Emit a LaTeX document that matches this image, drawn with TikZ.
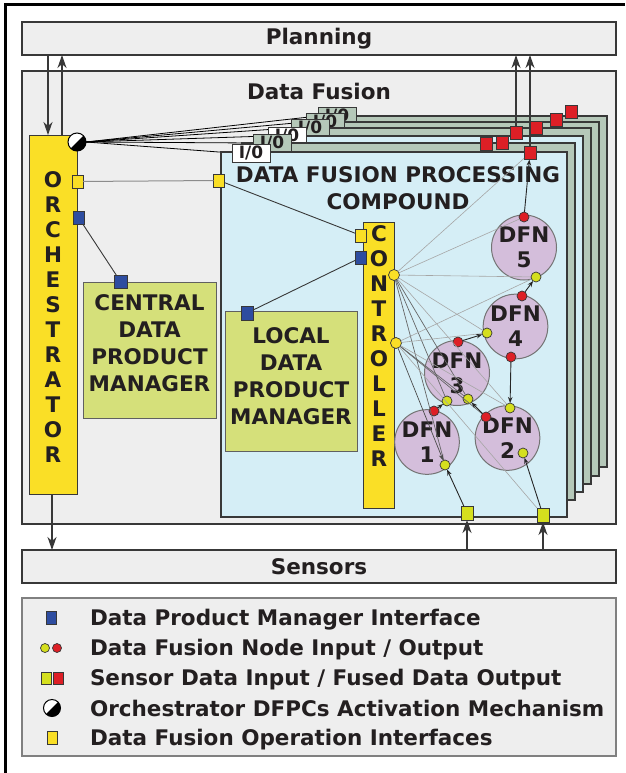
\documentclass[tikz,border=0pt]{standalone}
\usepackage{fontspec}
\setmainfont{DejaVu Sans}
\usetikzlibrary{arrows.meta}
\definecolor{boxgray}{HTML}{EEEEEE}
\definecolor{edge}{HTML}{383838}
\definecolor{lblue}{HTML}{D5EEF6}
\definecolor{lgreen}{HTML}{B5C8B9}
\definecolor{yel}{HTML}{FADF26}
\definecolor{olive}{HTML}{D5E07A}
\definecolor{bport}{HTML}{2E4DA0}
\definecolor{ygport}{HTML}{D5DF1E}
\definecolor{rport}{HTML}{DD1F26}
\definecolor{lilac}{HTML}{D4BEDB}
\definecolor{txt}{HTML}{231F20}
\pgfdeclarelayer{boxes}
\pgfdeclarelayer{wires}
\pgfsetlayers{boxes,wires,main}
\begin{document}
\begin{tikzpicture}[x=1pt,y=-1pt,
  every node/.style={inner sep=0pt,outer sep=0pt,text=txt,font=\bfseries\fontsize{21.5}{27}\selectfont},
  graybox/.style={rectangle,draw=edge,line width=1.3pt,fill=boxgray},
  lgbox/.style={rectangle,draw=gray,line width=1.2pt,fill=boxgray},
  yelbox/.style={rectangle,draw=edge,line width=1pt,fill=yel},
  dpmbox/.style={rectangle,draw=edge!80,line width=1pt,fill=olive},
  bluelayer/.style={rectangle,draw=edge,line width=1.2pt,fill=lblue},
  greenlayer/.style={rectangle,draw=edge,line width=1.2pt,fill=lgreen},
  whitetab/.style={rectangle,draw=edge,line width=1pt,fill=white,minimum width=38,minimum height=17,font=\bfseries\fontsize{17}{17}\selectfont},
  greentab/.style={whitetab,fill=lgreen},
  sq/.style={rectangle,draw=edge,line width=0.8pt,minimum width=11,minimum height=13},
  yelsq/.style={sq,fill=yel},
  bluesq/.style={sq,fill=bport},
  redsq/.style={sq,fill=rport,minimum width=12},
  ygsq/.style={sq,fill=ygport,minimum width=12,minimum height=14},
  dot/.style={circle,draw=edge,line width=0.7pt,minimum size=10},
  reddot/.style={dot,fill=rport},
  ygdot/.style={dot,fill=ygport},
  yeldot/.style={dot,fill=yel,minimum size=11},
  dfn/.style={circle,draw=edge!70,line width=1pt,fill=lilac,minimum size=62,align=center,font=\bfseries\fontsize{21.5}{25}\selectfont},
  actsym/.style={circle,draw=black,line width=1pt,fill=white,minimum size=18,
    path picture={\fill[black] (path picture bounding box.north east) -- (path picture bounding box.south west) -- (path picture bounding box.south east) -- cycle;}},
  bigarrow/.style={draw=edge,line width=1.3pt,-{Stealth[length=13pt,width=9pt,inset=4pt]}},
  sarrow/.style={draw=black!85,line width=0.9pt,-{Stealth[length=6pt,width=4.5pt]}},
  ctl/.style={draw=gray!70,line width=0.6pt},
  ctld/.style={draw=black!60,line width=0.7pt},
  link/.style={draw=edge,line width=0.9pt},
  glink/.style={draw=gray!90,line width=1pt},
  actline/.style={draw=black,line width=0.8pt},
]
\useasboundingbox (0,0) rectangle (625,773);
% outer frame
\draw[line width=3pt,black] (5,773) -- (5,5) -- (625,5);

\begin{pgfonlayer}{boxes}
\node[graybox,minimum width=594,minimum height=33] (plan) at (319,38.5) {Planning};
\node[graybox,minimum width=594,minimum height=453] (df) at (319,297.5) {};
\node (dft) at (319,91) {Data Fusion};
\node[graybox,minimum width=594,minimum height=33] (sens) at (319,566.5) {Sensors};
\node[lgbox,minimum width=594,minimum height=158] (leg) at (319,677) {};
\end{pgfonlayer}

% stacked DFPC layers (back to front)
\node[greenlayer,minimum width=300,minimum height=351] (l6) at (457,291.5) {};
\node[greentab] (t6) at (337,116) {I/0};
\node[redsq] (o6) at (571,112) {};
\node[greenlayer,minimum width=304,minimum height=354] (l5) at (447,299) {};
\node[greentab] (t5) at (325,122) {I/0};
\node[redsq] (o5) at (556,120) {};
\node[greenlayer,minimum width=311,minimum height=356] (l4) at (435.5,306) {};
\node[greentab] (t4) at (310,128) {I/0};
\node[redsq] (o4) at (536,127.5) {};
\node[bluelayer,minimum width=326,minimum height=356] (l3) at (420,314) {};
\node[whitetab] (t3) at (287,136) {I/0};
\node[redsq] (o3) at (516,133) {};
\node[greenlayer,minimum width=333,minimum height=357] (l2) at (408.5,321.5) {};
\node[greentab] (t2) at (272,143) {I/0};
\node[redsq] (o2a) at (486,143.5) {};
\node[redsq] (o2b) at (502,143) {};
\node[bluelayer,minimum width=346,minimum height=365] (l1) at (394,334.5) {};
\node[whitetab,minimum height=18] (t1) at (251,153) {I/0};
\node[redsq] (o1) at (530,153) {};
\node[align=center,font=\bfseries\fontsize{21.5}{26.5}\selectfont] (dfpct) at (398,188) {DATA FUSION PROCESSING\\COMPOUND};

% orchestrator
\node[yelbox,minimum width=48,minimum height=359] (orch) at (53,314.5) {};
\node[align=center,font=\bfseries\fontsize{21.5}{25}\selectfont] (orcht) at (53,317.5) {O\\R\\C\\H\\E\\S\\T\\R\\A\\T\\O\\R};
\node[actsym] (act) at (77,142) {};
\node[yelsq] (oy) at (77.5,181.5) {};
\node[bluesq] (ob) at (78.5,217.5) {};

% central data product manager
\node[dpmbox,minimum width=133,minimum height=136] (cdpm) at (149.5,350) {};
\node[align=center] (cdpmt) at (149.5,343) {CENTRAL\\DATA\\PRODUCT\\MANAGER};
\node[bluesq,minimum width=13] (cdpmb) at (120.5,281.5) {};

% local data product manager
\node[dpmbox,minimum width=132,minimum height=140] (ldpm) at (291,381) {};
\node[align=center] (ldpmt) at (291,376) {LOCAL\\DATA\\PRODUCT\\MANAGER};
\node[bluesq,minimum width=12,minimum height=14] (ldpmb) at (247,313) {};

% controller
\node[yelbox,minimum width=31,minimum height=286] (ctrl) at (378.5,365) {};
\node[align=center,font=\bfseries\fontsize{21.5}{25.1}\selectfont] (ctrlt) at (379,346) {C\\O\\N\\T\\R\\O\\L\\L\\E\\R};
\node[yelsq] (fy) at (219,180.5) {};
\node[yelsq] (cy) at (361,235.5) {};
\node[bluesq] (cb) at (361,257.5) {};

% DFNs
\node[dfn] (dfn5) at (524,247.5) {DFN\\5};
\node[dfn] (dfn4) at (515.5,326.5) {DFN\\4};
\node[dfn] (dfn3) at (457,373) {DFN\\3};
\node[dfn] (dfn1) at (427,442) {DFN\\1};
\node[dfn] (dfn2) at (507.5,438) {DFN\\2};

\node[reddot] (d5o) at (524,217) {};
\node[ygdot] (d5i) at (536,277) {};
\node[reddot] (d4o) at (522,296) {};
\node[ygdot] (d4i) at (487,333) {};
\node[reddot] (d4b) at (511,357) {};
\node[reddot] (d3o) at (458,342) {};
\node[ygdot] (d3l) at (447,401) {};
\node[ygdot] (d3r) at (468,399) {};
\node[reddot] (d1o) at (434,411) {};
\node[ygdot] (d1i) at (445,465) {};
\node[reddot] (d2o) at (486,417) {};
\node[ygdot] (d2t) at (510,408) {};
\node[ygdot] (d2r) at (523,453) {};
\node[yeldot] (c1) at (394,275) {};
\node[yeldot] (c2) at (396,343) {};
\node[ygsq] (s1) at (467,513) {};
\node[ygsq] (s2) at (543,515) {};

% interface links
\draw[glink] (oy) -- (fy);
\draw[link] (fy) -- (cy);
\draw[link] (ob) -- (cdpmb);
\draw[link] (ldpmb) -- (cb);

% controller control lines
\draw[ctl] (c1) -- (o1);
\draw[ctl] (c1) -- (d5o);
\draw[ctl] (c1) -- (d5i);
\draw[ctl] (c1) -- (d4i);
\draw[ctld] (c1) -- (d3l);
\draw[ctld] (c1) -- (d3r);
\draw[ctl] (c1) -- (d2t);
\draw[ctld] (c1) -- (d1i);
\draw[ctl] (c2) -- (d5i);
\draw[ctl] (c2) -- (d4i);
\draw[ctld] (c2) -- (d3r);
\draw[ctld] (c2) -- (d2o);
\draw[ctl] (c2) -- (d2t);
\draw[ctl] (c2) -- (s2);
\draw[sarrow,draw=black!70,line width=0.7pt] (c2) -- (d1i);

% data flow
\draw[sarrow] (d5o) -- (o1);
\draw[sarrow] (d4o) -- (d5i);
\draw[sarrow] (d3o) -- (d4i);
\draw[sarrow] (d4b) -- (d2t);
\draw[sarrow] (d2o) -- (d3r);
\draw[sarrow] (d1o) -- (d3l);
\draw[sarrow] (s1) -- (d1i);
\draw[sarrow] (s2) -- (d2r);

% activation lines
\begin{pgfonlayer}{wires}
\draw[actline] (act.east) -- (t1.west);
\draw[actline] (act.east) -- (t2.west);
\draw[actline] (act.east) -- (t3.west);
\draw[actline] (act.east) -- (t4.west);
\draw[actline] (act.east) -- (t5.west);
\draw[actline] (act.east) -- (t6.west);
\end{pgfonlayer}

% big arrows
\coordinate (ax1) at (48,0);
\coordinate (ax2) at (62,0);
\coordinate (ax3) at (52,0);
\draw[bigarrow] (plan.south -| ax1) -- (orch.north -| ax1);
\draw[bigarrow] (orch.north -| ax2) -- (plan.south -| ax2);
\draw[bigarrow] (orch.south -| ax3) -- (sens.north -| ax3);
\draw[bigarrow] (sens.north -| s1) -- (s1);
\draw[bigarrow] (sens.north -| s2) -- (s2);
\draw[bigarrow] (o3) -- (plan.south -| o3);
\draw[bigarrow] (o1) -- (plan.south -| o1);

% legend
\node[bluesq,minimum width=10] (lg1) at (51,618) {};
\node[ygdot,minimum size=9] (lg2a) at (45,648) {};
\node[reddot,minimum size=9] (lg2b) at (57,648) {};
\node[ygsq,minimum width=10,minimum height=12] (lg3a) at (46,678) {};
\node[redsq,minimum width=10,minimum height=12] (lg3b) at (58,678) {};
\node[actsym,minimum size=17] (lg4) at (52,708) {};
\node[yelsq,minimum width=10] (lg5) at (52,738) {};
\node[anchor=base west] (lt1) at (90,625) {Data Product Manager Interface};
\node[anchor=base west] (lt2) at (90,655) {Data Fusion Node Input / Output};
\node[anchor=base west] (lt3) at (90,685) {Sensor Data Input / Fused Data Output};
\node[anchor=base west] (lt4) at (90,716) {Orchestrator DFPCs Activation Mechanism};
\node[anchor=base west] (lt5) at (90,745) {Data Fusion Operation Interfaces};
\end{tikzpicture}
\end{document}
